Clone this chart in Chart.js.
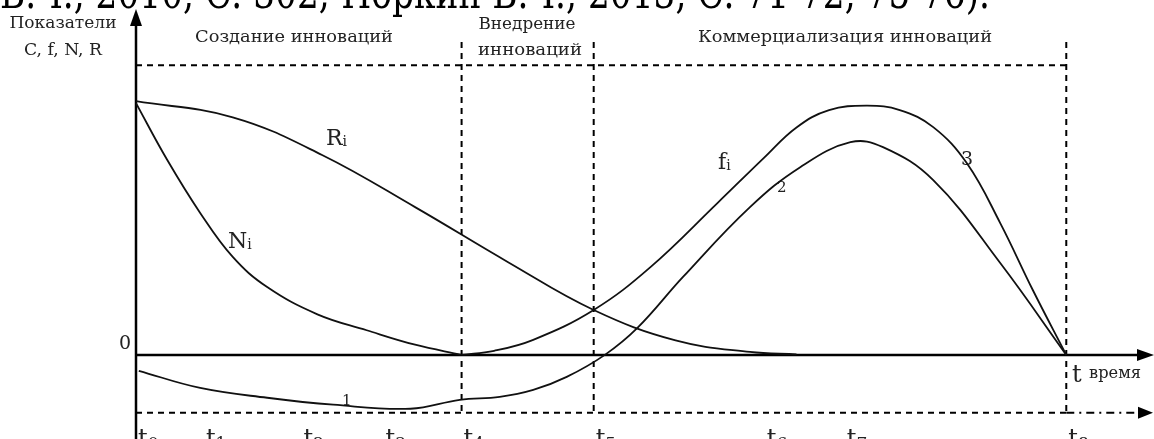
<!DOCTYPE html>
<html>
<head>
<meta charset="utf-8">
<script src="https://cdn.jsdelivr.net/npm/chart.js@4"></script>
<style>
  html, body { margin: 0; padding: 0; background: #fff; }
  #wrap { width: 1154px; height: 439px; }
</style>
</head>
<body>
<div id="wrap"><canvas id="scheme" width="1154" height="439"></canvas></div>
<script>
// x: time (t8 = 100), y: indicator value (top level = 10, bottom level = -2)
const rCurve = [[0, 8.76], [10.4, 8.2], [20, 6.9], [30, 5.1], [40, 3.2], [49.2, 1.55], [58, 0.5],
  [66, 0.1], [71, 0.02]];
const nCurve = [[0, 8.69], [3.3, 6.76], [6.9, 4.9], [10.4, 3.38], [14.1, 2.34], [19.5, 1.4], [24.8, 0.85],
  [30, 0.35], [35.0, 0]];
const fCurve = [[35.0, 0], [38.5, 0.14], [42.7, 0.52], [49.2, 1.55], [55.3, 3.03], [62.5, 5.24],
  [67.5, 6.8], [71, 7.85], [74.5, 8.45], [78.6, 8.6], [82.1, 8.45], [85.7, 7.86], [89.3, 6.62], [92.9, 4.55],
  [96.4, 2.24], [100, 0]];
const cCurve = [[0.3, -0.55], [6.9, -1.14], [14.1, -1.48], [21.2, -1.72], [29.5, -1.86],
  [34.8, -1.55], [39.1, -1.45], [42.7, -1.21], [46.3, -0.76], [50.4, 0], [53.9, 0.93],
  [58.8, 2.69], [66.0, 5.1], [71.4, 6.48], [76.8, 7.34], [80.3, 7.17], [85.7, 6.03], [92.9, 3.17], [100, 0]];

const tickLabels = ['0', '1', '2', '3', '4', '5', '6', '7', '8'];
const tickValues = [0, 7.3, 17.8, 26.6, 35.0, 49.2, 67.6, 76.2, 100];
const phaseEnds = [35.0, 49.2, 100];
const topLevel = 10;
const bottomLevel = -2;
const phaseNames = ['Создание инноваций', 'Внедрение', 'инноваций', 'Коммерциализация инноваций'];

const toPts = arr => arr.map(p => ({x: p[0], y: p[1]}));
const serif = '"DejaVu Serif", "Liberation Serif", serif';

// draw text squeezed/stretched to a given width
function fitText(ctx, text, x, y, width, size, align) {
  ctx.font = size + 'px ' + serif;
  const w = ctx.measureText(text).width;
  const k = width / w;
  const left = align === 'center' ? x - width / 2 : x;
  ctx.save();
  ctx.textAlign = 'left';
  ctx.translate(left, y);
  ctx.scale(k, 1);
  ctx.fillText(text, 0, 0);
  ctx.restore();
}

const schemePlugin = {
  id: 'scheme',
  beforeDatasetsDraw(chart) {
    const ctx = chart.ctx;
    const xs = chart.scales.x, ys = chart.scales.y;
    const X = v => xs.getPixelForValue(v), Y = v => ys.getPixelForValue(v);
    const x0 = X(0), y0 = Y(0);
    ctx.save();
    ctx.strokeStyle = '#000';
    ctx.fillStyle = '#000';

    // dashed guide lines
    ctx.lineWidth = 2;
    ctx.setLineDash([6, 5]);
    ctx.beginPath();
    ctx.moveTo(x0, Y(topLevel)); ctx.lineTo(X(100), Y(topLevel));
    ctx.moveTo(x0, Y(bottomLevel)); ctx.lineTo(X(100), Y(bottomLevel));
    phaseEnds.forEach(v => { ctx.moveTo(X(v), Y(10.8)); ctx.lineTo(X(v), Y(bottomLevel)); });
    ctx.stroke();
    ctx.setLineDash([8, 5, 2, 5]);
    ctx.beginPath();
    ctx.moveTo(X(100), Y(bottomLevel)); ctx.lineTo(1140, Y(bottomLevel));
    ctx.stroke();
    ctx.setLineDash([]);
    ctx.beginPath();
    ctx.moveTo(1153, Y(bottomLevel)); ctx.lineTo(1138, Y(bottomLevel) - 6); ctx.lineTo(1138, Y(bottomLevel) + 6);
    ctx.closePath(); ctx.fill();

    // axes
    ctx.lineWidth = 2.5;
    ctx.beginPath();
    ctx.moveTo(x0, 439); ctx.lineTo(x0, 24);
    ctx.moveTo(x0, y0); ctx.lineTo(1140, y0);
    ctx.stroke();
    ctx.beginPath();
    ctx.moveTo(x0, 9); ctx.lineTo(x0 - 6, 26); ctx.lineTo(x0 + 6, 26); ctx.closePath(); ctx.fill();
    ctx.beginPath();
    ctx.moveTo(1154, y0); ctx.lineTo(1137, y0 - 6); ctx.lineTo(1137, y0 + 6); ctx.closePath(); ctx.fill();

    // texts
    ctx.fillStyle = '#222';
    ctx.textBaseline = 'alphabetic';
    ctx.fillStyle = '#000';
    fitText(ctx, 'В.Ч., 2010, С. 302; Норкин В.Ч., 2013, С. 71-72, 75-76).', 0, 8, 990, 44, 'left');
    ctx.fillStyle = '#222';

    fitText(ctx, 'Показатели', 63, 28, 107, 17, 'center');
    fitText(ctx, 'C, f, N, R', 63, 55, 78, 17, 'center');
    fitText(ctx, phaseNames[0], 294, 42, 198, 17, 'center');
    fitText(ctx, phaseNames[1], 527, 29, 97, 17, 'center');
    fitText(ctx, phaseNames[2], 530, 55, 104, 17, 'center');
    fitText(ctx, phaseNames[3], 845, 42, 294, 17, 'center');
    fitText(ctx, 'время', 1089, 378, 52, 17, 'left');
    ctx.textAlign = 'left';
    ctx.font = '19px ' + serif;
    ctx.fillText('0', 119, 349);
    ctx.font = '24px ' + serif;
    ctx.fillText('t', 1072, 382);

    // time marks with subscripts
    tickLabels.forEach((s, i) => {
      const px = X(tickValues[i]) + 2;
      ctx.font = '24px ' + serif;
      ctx.fillText('t', px, 446);
      const w = ctx.measureText('t').width;
      ctx.font = '17px ' + serif;
      ctx.fillText(s, px + w, 449);
    });

    // curve labels
    const sub = (main, idx, px, py, size) => {
      ctx.font = size + 'px ' + serif;
      ctx.fillText(main, px, py);
      const w = ctx.measureText(main).width;
      ctx.font = Math.round(size * 0.65) + 'px ' + serif;
      ctx.fillText(idx, px + w, py + 1);
    };
    sub('R', 'i', 326, 145, 22);
    sub('N', 'i', 228, 248, 22);
    sub('f', 'i', 718, 169, 22);
    ctx.font = '15px ' + serif;
    ctx.fillText('1', 342, 405);
    ctx.fillText('2', 777, 192);
    ctx.font = '19px ' + serif;
    ctx.fillText('3', 961, 165);
    ctx.restore();
  }
};

const line = data => ({
  data: toPts(data),
  borderColor: '#111',
  borderWidth: 1.8,
  pointRadius: 0,
  fill: false,
  tension: 0.4
});

new Chart(document.getElementById('scheme'), {
  type: 'line',
  data: {
    datasets: [line(rCurve), line(nCurve), line(fCurve), line(cCurve)]
  },
  options: {
    responsive: false,
    animation: false,
    devicePixelRatio: 1,
    layout: { padding: { left: 136, right: 4, top: 13, bottom: 3 } },
    scales: {
      x: { type: 'linear', min: 0, max: 109, display: false },
      y: { type: 'linear', min: -2.8, max: 11.8, display: false }
    },
    plugins: {
      legend: { display: false },
      tooltip: { enabled: false }
    }
  },
  plugins: [schemePlugin]
});
</script>
</body>
</html>
